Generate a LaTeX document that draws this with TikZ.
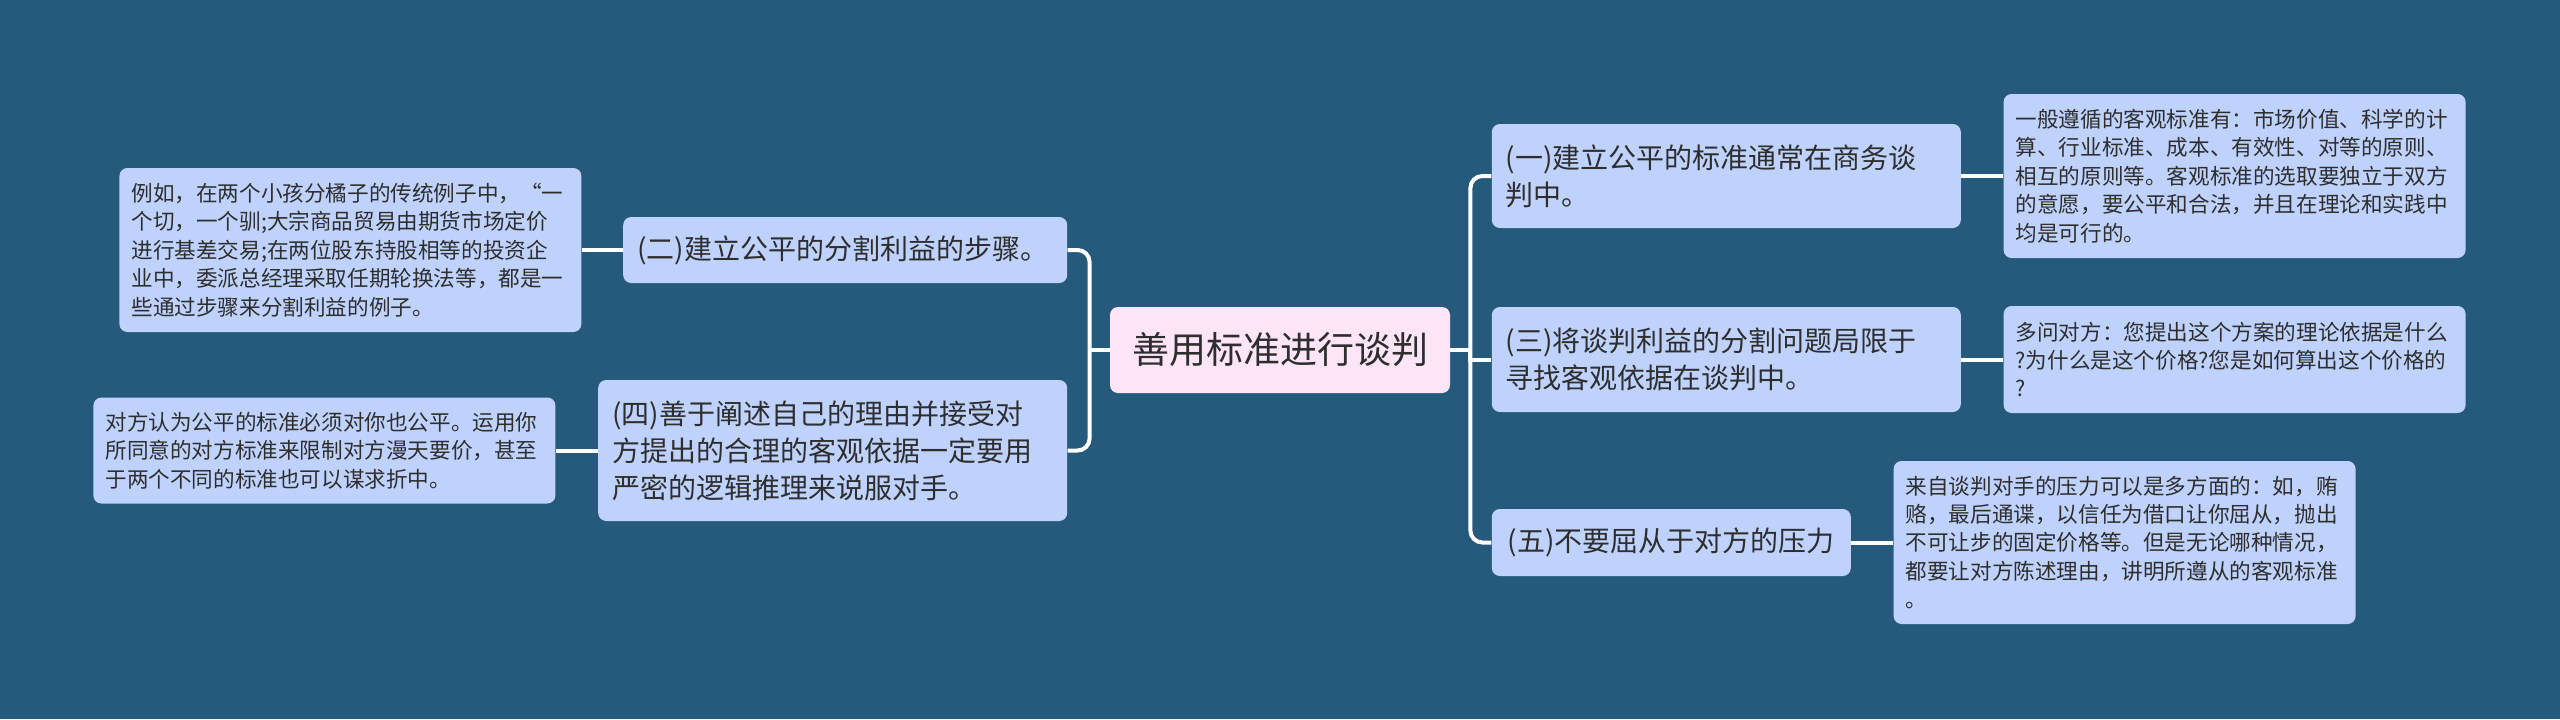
\documentclass[tikz,border=0pt]{standalone}
\usepackage{fontspec}
\setmainfont{Noto Sans CJK SC}
\usepackage{xcolor}
\usetikzlibrary{positioning}
\definecolor{bgblue}{HTML}{255A7C}
\definecolor{nodeblue}{HTML}{BFD2FB}
\definecolor{rootpink}{HTML}{FDE5F8}
\definecolor{inkgray}{HTML}{2E2E2E}

\begin{document}
\begin{tikzpicture}[x=0.5pt, y=-0.5pt,
    rootbox/.style={rectangle, rounded corners=4pt, fill=rootpink, text=inkgray,
                    minimum width=170pt, minimum height=43pt, inner sep=2pt,
                    font=\fontsize{18.5}{22}\selectfont},
    branchbox/.style={rectangle, rounded corners=4pt, fill=nodeblue, text=inkgray,
                      inner xsep=7pt, inner ysep=2pt, align=left,
                      font=\fontsize{14}{18.5}\selectfont},
    leafbox/.style={rectangle, rounded corners=4pt, fill=nodeblue, text=inkgray,
                    inner xsep=6pt, inner ysep=2pt, align=left, text width=219pt,
                    font=\fontsize{10.8}{14.2}\selectfont},
    link/.style={draw=white, line width=2pt, rounded corners=6pt},
]
% Canvas
\fill[bgblue] (0,0) rectangle (2560,719);
\useasboundingbox (0,0) rectangle (2560,719);

% Root
\node[rootbox] (root) at (1280,350) {善用标准进行谈判};

% Right branches
\node[branchbox, text width=220.5pt, minimum height=52pt, right=20.5pt of root, yshift=87pt] (b1)
    {(一)建立公平的标准通常在商务谈\\判中。};
\node[branchbox, text width=220.5pt, minimum height=52.5pt, right=20.5pt of root, yshift=-4.75pt] (b3)
    {(三)将谈判利益的分割问题局限于\\寻找客观依据在谈判中。};
\node[branchbox, text width=165.5pt, minimum height=33.5pt, align=center, right=20.5pt of root, yshift=-96.25pt] (b5)
    {(五)不要屈从于对方的压力};

% Left branches
\node[branchbox, text width=208pt, minimum height=33pt, left=21pt of root, yshift=50pt] (b2)
    {(二)建立公平的分割利益的步骤。};
\node[branchbox, text width=220.5pt, minimum height=70.5pt, left=21pt of root, yshift=-50.25pt] (b4)
    {(四)善于阐述自己的理由并接受对\\方提出的合理的客观依据一定要用\\严密的逻辑推理来说服对手。};

% Details
\node[leafbox, minimum height=82pt, right=21pt of b1] (d1)
    {一般遵循的客观标准有：市场价值、科学的计\\算、行业标准、成本、有效性、对等的原则、\\相互的原则等。客观标准的选取要独立于双方\\的意愿，要公平和合法，并且在理论和实践中\\均是可行的。};
\node[leafbox, minimum height=53.5pt, right=21pt of b3] (d3)
    {多问对方：您提出这个方案的理论依据是什么\\?为什么是这个价格?您是如何算出这个价格的\\?};
\node[leafbox, minimum height=81.5pt, right=21pt of b5] (d5)
    {来自谈判对手的压力可以是多方面的：如，贿\\赂，最后通谍，以信任为借口让你屈从，抛出\\不可让步的固定价格等。但是无论哪种情况，\\都要让对方陈述理由，讲明所遵从的客观标准\\。};
\node[leafbox, minimum height=82pt, left=20.5pt of b2] (d2)
    {例如，在两个小孩分橘子的传统例子中，“一\\个切，一个驯;大宗商品贸易由期货市场定价\\进行基差交易;在两位股东持股相等的投资企\\业中，委派总经理采取任期轮换法等，都是一\\些通过步骤来分割利益的例子。};
\node[leafbox, minimum height=53pt, left=21pt of b4] (d4)
    {对方认为公平的标准必须对你也公平。运用你\\所同意的对方标准来限制对方漫天要价，甚至\\于两个不同的标准也可以谋求折中。};

% Links
\draw[link] (root.east) -- ++(10pt,0) coordinate (rj);
\draw[link] (rj) |- (b1.west);
\draw[link, sharp corners] (rj) |- (b3.west);
\draw[link] (rj) |- (b5.west);
\draw[link] (root.west) -- ++(-10pt,0) coordinate (lj);
\draw[link] (lj) |- (b2.east);
\draw[link] (lj) |- (b4.east);
\draw[link] (b1.east) -- (d1.west);
\draw[link] (b3.east) -- (d3.west);
\draw[link] (b5.east) -- (d5.west);
\draw[link] (b2.west) -- (d2.east);
\draw[link] (b4.west) -- (d4.east);
\end{tikzpicture}
\end{document}
